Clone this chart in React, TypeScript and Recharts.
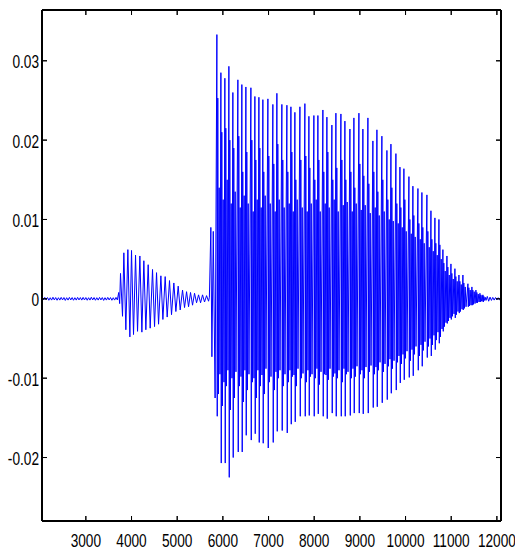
import { LineChart, Line, XAxis, YAxis } from "recharts";

// sample index axis / amplitude axis
const xTicks = [3000, 4000, 5000, 6000, 7000, 8000, 9000, 10000, 11000, 12000];
const yTicks = [-0.02, -0.01, 0, 0.01, 0.02, 0.03];

// silence before the first burst
const leadT = [2040, 2070, 2100, 2130, 2160, 2190, 2220, 2250, 2280, 2310, 2340, 2370, 2400, 2430, 2460,
  2490, 2520, 2550, 2580, 2610, 2640, 2670, 2700, 2730, 2760, 2790, 2820, 2850, 2880, 2910, 2940, 2970,
  3000, 3030, 3060, 3090, 3120, 3150, 3180, 3210, 3240, 3270, 3300, 3330, 3360, 3390, 3420, 3450, 3480,
  3510, 3540, 3570, 3600, 3630, 3660, 3690, 3720, 3740];
const leadV = [0.00016, -0.00014, 0.00018, -0.00014, 0.00016, -0.00018, 0.00014, -0.00016, 0.0002, -0.00014,
  0.00016, -0.00018, 0.00014, -0.00016, 0.00018, -0.00014, 0.00016, -0.0002, 0.00014, -0.00016, 0.00018,
  -0.00014, 0.00016, -0.00018, 0.00014, -0.00016, 0.00018, -0.00014, 0.00016, -0.00016, 0.00018, -0.00014,
  0.00016, -0.00018, 0.00014, -0.00016, 0.0002, -0.00014, 0.00016, -0.00018, 0.00014, -0.00016, 0.00018,
  -0.00014, 0.00016, -0.0002, 0.00014, -0.00016, 0.00018, -0.00014, 0.00016, -0.00018, 0.00014, -0.00016,
  0.00018, -0.00014, 0.0008, -0.0006];

// first (weak) burst: one peak and one trough per cycle
const burstPeakT = [3759, 3832, 3920, 4000, 4088, 4183, 4270, 4365, 4460, 4548, 4643, 4737, 4832, 4927,
  5022, 5117, 5205, 5292, 5380, 5468, 5555, 5643];
const burstTroughT = [3803, 3876, 3964, 4044, 4132, 4227, 4314, 4409, 4504, 4592, 4687, 4781, 4876, 4971,
  5066, 5161, 5249, 5336, 5424, 5512, 5599, 5687];
const burstPeak = [0.0032, 0.0058, 0.0062, 0.0061, 0.0055, 0.0054, 0.0048, 0.0043, 0.0037, 0.0033, 0.0029,
  0.0028, 0.0023, 0.002, 0.0016, 0.0011, 0.0009, 0.0008, 0.0007, 0.0005, 0.0005, 0.0004];
const burstTrough = [-0.0022, -0.0039, -0.0048, -0.0045, -0.0041, -0.0042, -0.0039, -0.0037, -0.0035,
  -0.0032, -0.0026, -0.0023, -0.002, -0.0016, -0.0014, -0.0011, -0.001, -0.0008, -0.0005, -0.0005,
  -0.0004, -0.0003];

// onset of the voiced part
const onsetT = [5705, 5737, 5760, 5790, 5830];
const onsetV = [0.0002, 0.009, -0.0073, 0.0085, -0.0125];

// voiced part: one row per pitch period
const periodT = [5869, 5957, 6044, 6132, 6219, 6329, 6416, 6504, 6614, 6701, 6789, 6876, 6986, 7095, 7183,
  7292, 7402, 7490, 7577, 7687, 7796, 7884, 7993, 8081, 8190, 8278, 8387, 8475, 8585, 8672, 8782, 8869,
  8979, 9066, 9176, 9285, 9373, 9482, 9592, 9680, 9789, 9877, 9964, 10074, 10161, 10271, 10358, 10468,
  10556, 10643, 10731, 10818, 10906, 10994, 11081, 11169, 11256, 11366, 11453, 11541, 11629, 11694];
const periodHi = [0.0333, 0.0285, 0.0278, 0.0293, 0.026, 0.0276, 0.027, 0.0267, 0.0266, 0.0255,
  0.0254, 0.0251, 0.0252, 0.0245, 0.0259, 0.0245, 0.0244, 0.0242, 0.0235, 0.0242,
  0.0246, 0.023, 0.0231, 0.0231, 0.0238, 0.0229, 0.0219, 0.0234, 0.0233, 0.0224,
  0.0214, 0.0228, 0.0234, 0.0214, 0.0228, 0.0199, 0.0213, 0.0205, 0.0187, 0.0195,
  0.0183, 0.0166, 0.0164, 0.0154, 0.0142, 0.0139, 0.0134, 0.0131, 0.0111, 0.0102,
  0.01, 0.0062, 0.0054, 0.0044, 0.0038, 0.003, 0.003, 0.0019, 0.0015, 0.0011,
  0.0007, 0.0005];
const periodLo = [-0.0148, -0.0207, -0.0207, -0.0225, -0.02, -0.0193, -0.0193, -0.0172, -0.0178, -0.017,
  -0.0181, -0.0182, -0.0188, -0.0181, -0.0167, -0.0166, -0.0169, -0.0158, -0.0155, -0.0148,
  -0.0148, -0.0147, -0.0148, -0.0145, -0.0148, -0.0151, -0.0144, -0.0148, -0.0148, -0.0148,
  -0.0147, -0.0144, -0.0144, -0.0145, -0.0144, -0.0137, -0.0136, -0.0131, -0.0127, -0.0119,
  -0.0115, -0.0106, -0.0102, -0.0099, -0.0097, -0.009, -0.0085, -0.0074, -0.0072, -0.0064,
  -0.0056, -0.0041, -0.0031, -0.0026, -0.0024, -0.0018, -0.0014, -0.001, -0.0008, -0.0005,
  -0.0004, -0.0004];
const periodA = [0.0253, 0.021, 0.0215, 0.02, 0.019, 0.0205, 0.016, 0.0185, 0.02, 0.0175,
  0.019, 0.016, 0.018, 0.017, 0.0195, 0.0175, 0.016, 0.0185, 0.015, 0.0175,
  0.018, 0.0165, 0.015, 0.0175, 0.016, 0.0185, 0.015, 0.0165, 0.0175, 0.015,
  0.016, 0.014, 0.017, 0.0155, 0.0145, 0.016, 0.0135, 0.015, 0.0125, 0.014,
  0.012, 0.0115, 0.0125, 0.01, 0.0105, 0.0095, 0.009, 0.0085, 0.0075, 0.007,
  0.0068, 0.0045, 0.004, 0.0032, 0.0028, 0.0022, 0.002, 0.0014, 0.0011, 0.0008,
  0.0005, 0.0003];
const periodB = [-0.012, -0.0135, -0.011, -0.014, -0.0125, -0.011, -0.013, -0.0115, -0.0105, -0.0125,
  -0.011, -0.012, -0.0105, -0.0115, -0.01, -0.011, -0.0105, -0.0098, -0.011, -0.01,
  -0.0105, -0.0098, -0.01, -0.0108, -0.0095, -0.0102, -0.0098, -0.01, -0.0105, -0.0095,
  -0.01, -0.0098, -0.0095, -0.01, -0.0092, -0.0095, -0.009, -0.0092, -0.0085, -0.0088,
  -0.008, -0.0082, -0.0075, -0.0078, -0.007, -0.0072, -0.0065, -0.006, -0.0058, -0.0052,
  -0.0048, -0.0035, -0.0028, -0.0022, -0.002, -0.0016, -0.0012, -0.0009, -0.0007, -0.0005,
  -0.0003, -0.0002];
const periodC = [0.014, 0.0125, 0.015, 0.012, 0.0135, 0.0115, 0.013, 0.012, 0.011, 0.0125,
  0.0115, 0.013, 0.012, 0.011, 0.0125, 0.0115, 0.012, 0.011, 0.0125, 0.0115,
  0.011, 0.012, 0.0125, 0.011, 0.012, 0.0115, 0.0125, 0.011, 0.0118, 0.0122,
  0.011, 0.012, 0.0112, 0.0118, 0.0108, 0.0115, 0.0105, 0.011, 0.01, 0.0098,
  0.0095, 0.009, 0.0085, 0.0082, 0.0078, 0.0075, 0.007, 0.0065, 0.006, 0.0055,
  0.005, 0.0035, 0.003, 0.0025, 0.0022, 0.0018, 0.0015, 0.0011, 0.0009, 0.0006,
  0.0004, 0.0002];
const periodD = [-0.0095, -0.0105, -0.009, -0.01, -0.0092, -0.0098, -0.009, -0.0095, -0.01, -0.009,
  -0.0096, -0.0088, -0.0098, -0.0092, -0.009, -0.0095, -0.009, -0.0096, -0.0088, -0.0094,
  -0.009, -0.0095, -0.0088, -0.0092, -0.0096, -0.0088, -0.0094, -0.009, -0.0088, -0.0092,
  -0.0088, -0.0085, -0.009, -0.0086, -0.0084, -0.0086, -0.008, -0.0082, -0.0076, -0.0078,
  -0.0072, -0.007, -0.0066, -0.0064, -0.006, -0.0058, -0.0054, -0.005, -0.0046, -0.0042,
  -0.0038, -0.003, -0.0024, -0.0019, -0.0016, -0.0013, -0.001, -0.0008, -0.0006, -0.0004,
  -0.0003, -0.0002];
// sample offsets of hi, lo, A, B, C, D inside a period
const periodPhase = [0, 8, 20, 34, 50, 68];

// decay to silence
const tailT = [11790, 11820, 11850, 11880, 11910, 11940, 11970, 12000, 12030, 12060, 12090];
const tailV = [0.0003, -0.0003, 0.00022, -0.0002, 0.00018, -0.00016, 0.00016, -0.00014, 0.00014, -0.00012, 0];

const rows: { t: number; v: number }[] = [];
leadT.forEach((t, i) => rows.push({ t, v: leadV[i] }));
burstPeakT.forEach((t, i) => {
  rows.push({ t, v: burstPeak[i] });
  rows.push({ t: burstTroughT[i], v: burstTrough[i] });
});
onsetT.forEach((t, i) => rows.push({ t, v: onsetV[i] }));
periodT.forEach((t, i) => {
  const vals = [periodHi[i], periodLo[i], periodA[i], periodB[i], periodC[i], periodD[i]];
  vals.forEach((v, k) => rows.push({ t: t + periodPhase[k], v }));
});
tailT.forEach((t, i) => rows.push({ t, v: tailV[i] }));
const data = rows.filter((r) => typeof r.v === "number");

const font = "'Liberation Sans', Arial, sans-serif";

// tick marks point into the plot (tickSize is negative), these only draw the labels
const BottomTick = (props: any) => {
  const { x, y, payload } = props;
  return (
    <g>
      <line x1={x} y1={y} x2={x} y2={y + 5} stroke="#000" strokeWidth={1} />
      <text transform={`translate(${x},${y + 31}) scale(0.76,1)`} textAnchor="middle"
        fontFamily={font} fontSize={18} fill="#000">{payload.value}</text>
    </g>
  );
};

const LeftTick = (props: any) => {
  const { x, y, payload } = props;
  return (
    <g>
      <line x1={x} y1={y} x2={x - 5} y2={y} stroke="#000" strokeWidth={1} />
      <text transform={`translate(${x - 8},${y + 7.5}) scale(0.76,1)`} textAnchor="end"
        fontFamily={font} fontSize={18} fill="#000">{String(payload.value)}</text>
    </g>
  );
};

const TopTick = (props: any) => {
  const { x, y } = props;
  return <line x1={x} y1={y} x2={x} y2={y - 5} stroke="#000" strokeWidth={1} />;
};

const RightTick = (props: any) => {
  const { x, y } = props;
  return <line x1={x} y1={y} x2={x + 5} y2={y} stroke="#000" strokeWidth={1} />;
};

const axisStyle = { stroke: "#000", strokeWidth: 2 };
const tickStyle = { stroke: "#000", strokeWidth: 1 };

export default function App() {
  return (
    <div style={{ position: "absolute", left: 0, top: 0, background: "#fff" }}>
      <LineChart width={515} height={549} data={data} margin={{ top: 9, right: 13, bottom: 0, left: 0 }}>
        <XAxis xAxisId="bottom" dataKey="t" type="number" domain={[2040, 12090]} allowDataOverflow
          ticks={xTicks} interval={0} height={28} tickSize={-5} tickMargin={0} tickLine={tickStyle}
          axisLine={axisStyle} tick={<BottomTick />} />
        <XAxis xAxisId="top" orientation="top" dataKey="t" type="number" domain={[2040, 12090]} allowDataOverflow
          ticks={xTicks} interval={0} height={1} tickSize={-5} tickMargin={0} tickLine={tickStyle}
          axisLine={axisStyle} tick={<TopTick />} />
        <YAxis yAxisId="left" type="number" domain={[-0.028, 0.0364]} allowDataOverflow ticks={yTicks}
          interval={0} width={42} tickSize={-5} tickMargin={0} tickLine={tickStyle} axisLine={axisStyle}
          tick={<LeftTick />} />
        <YAxis yAxisId="right" orientation="right" type="number" domain={[-0.028, 0.0364]} allowDataOverflow
          ticks={yTicks} interval={0} width={1} tickSize={-5} tickMargin={0} tickLine={tickStyle}
          axisLine={axisStyle} tick={<RightTick />} />
        <Line xAxisId="bottom" yAxisId="left" dataKey="v" type="linear" stroke="#0000ff" strokeWidth={1}
          dot={false} isAnimationActive={false} />
      </LineChart>
    </div>
  );
}
